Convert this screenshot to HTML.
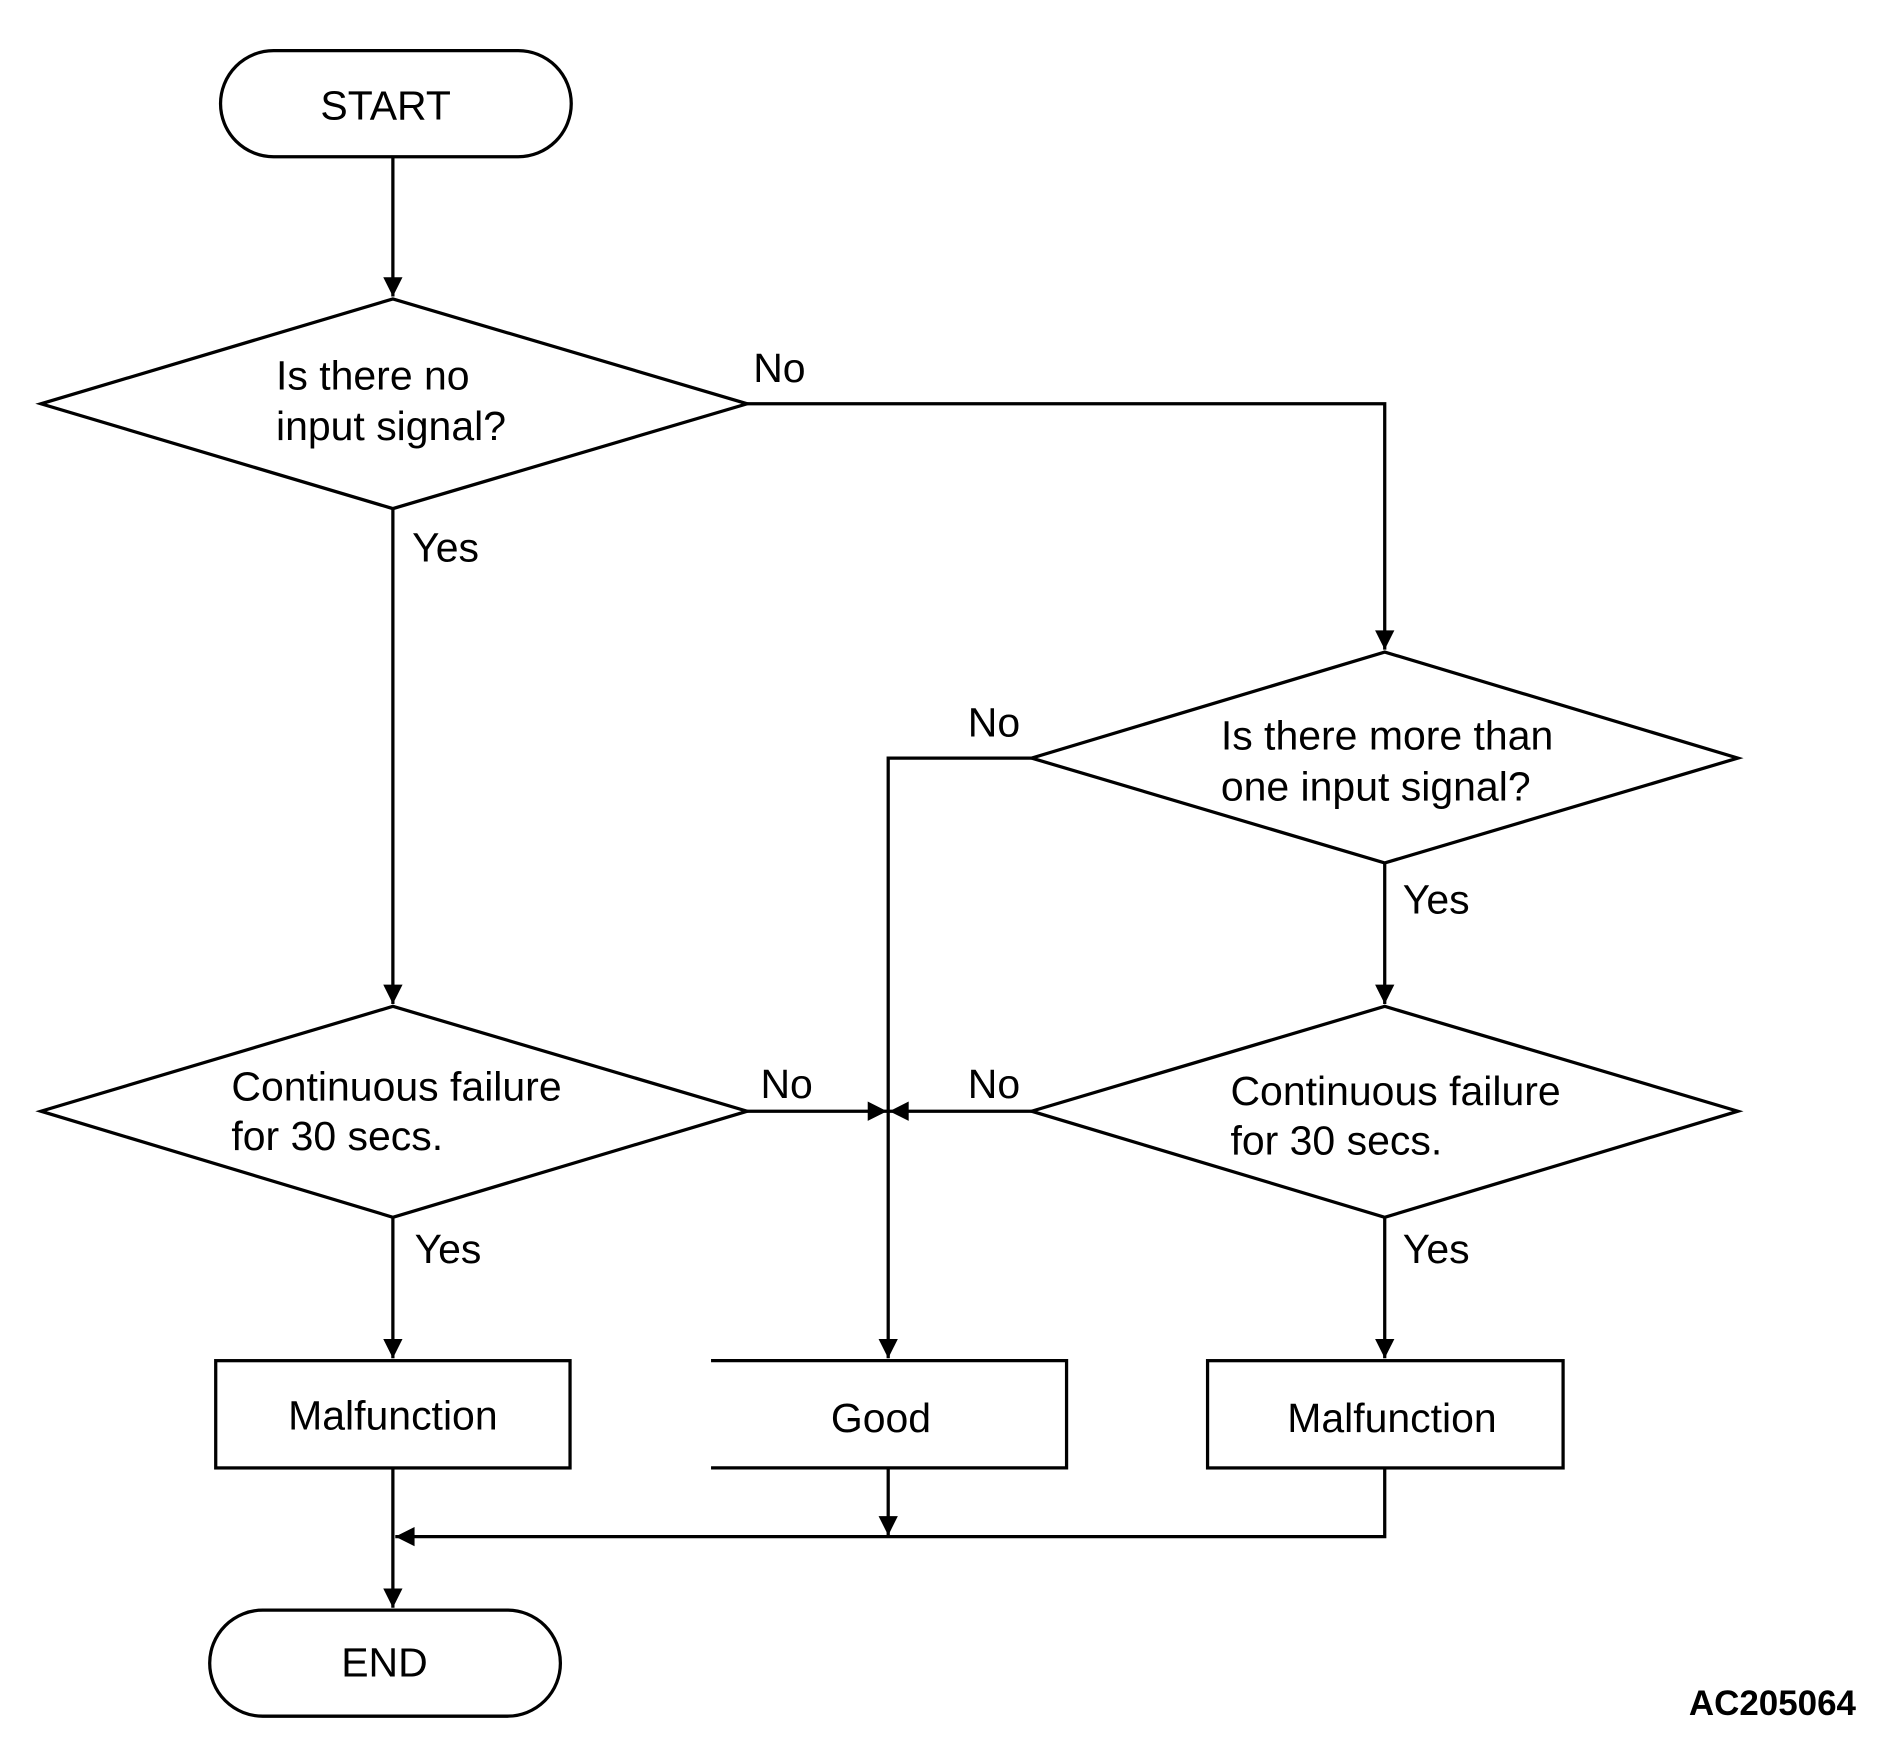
<!DOCTYPE html>
<html><head><meta charset="utf-8"><style>html,body{margin:0;padding:0;background:#fff}svg{display:block}</style></head>
<body>
<svg width="1888" height="1756" viewBox="0 0 1566.6 1457" xmlns="http://www.w3.org/2000/svg" font-family="Liberation Sans, Arial, sans-serif" font-size="34" fill="none" stroke="#000" stroke-width="2.7">
<defs><marker id="a" viewBox="0 0 10 10" refX="10" refY="5" markerWidth="20" markerHeight="16" markerUnits="userSpaceOnUse" orient="auto"><path d="M0,0L10,5L0,10z" fill="#000" stroke="none"/></marker></defs>
<rect x="183" y="42" width="291" height="88" rx="44"/>
<rect x="174" y="1336" width="291" height="88" rx="44"/>
<polygon points="326,248 620,335 326,422 34,335"/>
<polygon points="1149,541 1442,629 1149,716 856,629"/>
<polygon points="326,835 620,922 326,1010 34,922"/>
<polygon points="1149,835 1442,922 1149,1010 856,922"/>
<rect x="179" y="1129" width="294" height="89"/>
<rect x="1002" y="1129" width="295" height="89"/>
<path d="M590,1129H885V1218H590"/>
<path d="M326,130V246" marker-end="url(#a)"/>
<path d="M620,335H1149V539" marker-end="url(#a)"/>
<path d="M326,422V833" marker-end="url(#a)"/>
<path d="M856,629H737V1127" marker-end="url(#a)"/>
<path d="M1149,716V833" marker-end="url(#a)"/>
<path d="M620,922H736" marker-end="url(#a)"/>
<path d="M856,922H738" marker-end="url(#a)"/>
<path d="M326,1010V1127" marker-end="url(#a)"/>
<path d="M1149,1010V1127" marker-end="url(#a)"/>
<path d="M326,1218V1334" marker-end="url(#a)"/>
<path d="M737,1218V1274" marker-end="url(#a)"/>
<path d="M1149,1218V1275H328" marker-end="url(#a)"/>
<g fill="#000" stroke="none">
<text x="320" y="99" text-anchor="middle">START</text>
<text x="319" y="1391" text-anchor="middle">END</text>
<text x="229" y="323">Is there no</text>
<text x="229" y="365">input signal?</text>
<text x="1013" y="622">Is there more than</text>
<text x="1013" y="664">one input signal?</text>
<text x="192" y="913">Continuous failure</text>
<text x="192" y="954">for 30 secs.</text>
<text x="1021" y="917">Continuous failure</text>
<text x="1021" y="958">for 30 secs.</text>
<text x="326" y="1186" text-anchor="middle">Malfunction</text>
<text x="731" y="1188" text-anchor="middle">Good</text>
<text x="1155" y="1188" text-anchor="middle">Malfunction</text>
<text x="625" y="317">No</text>
<text x="342" y="466">Yes</text>
<text x="803" y="611">No</text>
<text x="1164" y="758">Yes</text>
<text x="631" y="911">No</text>
<text x="803" y="911">No</text>
<text x="344" y="1048">Yes</text>
<text x="1164" y="1048">Yes</text>
<text x="1540" y="1423" text-anchor="end" font-weight="bold" font-size="29">AC205064</text>
</g>
</svg>
</body></html>
